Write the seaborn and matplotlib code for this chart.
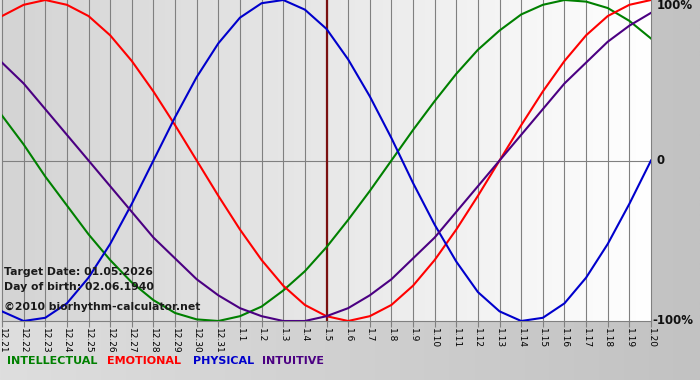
import numpy as np
import pandas as pd
import seaborn as sns
import matplotlib.pyplot as plt
from matplotlib.colors import LinearSegmentedColormap

plt.rcParams['font.family'] = ['DejaVu Sans']

days = ['12.21', '12.22', '12.23', '12.24', '12.25', '12.26', '12.27', '12.28', '12.29', '12.30', '12.31',
        '1.1', '1.2', '1.3', '1.4', '1.5', '1.6', '1.7', '1.8', '1.9', '1.10', '1.11', '1.12', '1.13',
        '1.14', '1.15', '1.16', '1.17', '1.18', '1.19', '1.20']

intellectual = [0.28, 0.10, -0.10, -0.28, -0.46, -0.62, -0.76, -0.87, -0.95, -0.99, -1.00,
                -0.97, -0.91, -0.81, -0.69, -0.54, -0.37, -0.19, 0.00, 0.19, 0.37, 0.54,
                0.69, 0.81, 0.91, 0.97, 1.00, 0.99, 0.95, 0.87, 0.76]
emotional = [0.90, 0.97, 1.00, 0.97, 0.90, 0.78, 0.62, 0.43, 0.22, 0.00, -0.22,
             -0.43, -0.62, -0.78, -0.90, -0.97, -1.00, -0.97, -0.90, -0.78, -0.62, -0.43,
             -0.22, 0.00, 0.22, 0.43, 0.62, 0.78, 0.90, 0.97, 1.00]
physical = [-0.94, -1.00, -0.98, -0.89, -0.73, -0.52, -0.27, 0.00, 0.27, 0.52, 0.73,
            0.89, 0.98, 1.00, 0.94, 0.82, 0.63, 0.40, 0.14, -0.14, -0.40, -0.63,
            -0.82, -0.94, -1.00, -0.98, -0.89, -0.73, -0.52, -0.27, 0.00]
intuitive = [0.61, 0.48, 0.32, 0.16, 0.00, -0.16, -0.32, -0.48, -0.61, -0.74, -0.84,
             -0.92, -0.97, -1.00, -1.00, -0.97, -0.92, -0.84, -0.74, -0.61, -0.48, -0.32,
             -0.16, 0.00, 0.16, 0.32, 0.48, 0.61, 0.74, 0.84, 0.92]

target_day = '1.5'
target_text = 'Target Date: 01.05.2026'
birth_text = 'Day of birth: 02.06.1940'
site_text = '\u00a92010 biorhythm-calculator.net'

colors = {'INTELLECTUAL': '#008000', 'EMOTIONAL': '#ff0000',
          'PHYSICAL': '#0000cc', 'INTUITIVE': '#4b0082'}

rows = []
for name, vals in [('INTELLECTUAL', intellectual), ('EMOTIONAL', emotional),
                   ('PHYSICAL', physical), ('INTUITIVE', intuitive)]:
    for i, v in enumerate(vals):
        rows.append({'day': i, 'value': v, 'rhythm': name})
df = pd.DataFrame(rows)

W, H = 700, 380
fig = plt.figure(figsize=(7, 3.8), dpi=100)

# figure background gradient
bg = fig.add_axes([0, 0, 1, 1], zorder=-10)
bg_cmap = LinearSegmentedColormap.from_list('bg', ['#dedede', '#c2c2c2'])
bg.imshow(np.linspace(0, 1, 256).reshape(1, -1), cmap=bg_cmap, aspect='auto', extent=[0, 1, 0, 1])
bg.set_axis_off()

ax = fig.add_axes([2 / W, 1 - 321 / H, 649 / W, 321 / H])
plot_cmap = LinearSegmentedColormap.from_list('pl', ['#d4d4d4', '#e8e8e8', '#ffffff'])
ax.imshow(np.linspace(0, 1, 256).reshape(1, -1), cmap=plot_cmap, aspect='auto',
          extent=[0, len(days) - 1, -1.0, 1.0], zorder=0)

for i in range(len(days)):
    ax.axvline(i, color='#808080', lw=0.8, zorder=1, clip_on=False)
ax.axhline(0, color='#808080', lw=0.8, zorder=1)
ax.axvline(days.index(target_day), color='#7a1010', lw=1.6, zorder=1)

sns.lineplot(data=df, x='day', y='value', hue='rhythm', palette=colors, ax=ax,
             legend=False, linewidth=1.5, zorder=3)

ax.set_xlim(0, len(days) - 1)
ax.set_ylim(-1.0, 1.0)
ax.set_xticks(range(len(days)))
ax.set_xticklabels(days, rotation=270, fontsize=6.5, va='top', ha='center')
ax.set_yticks([])
ax.tick_params(axis='x', length=4, width=0.8, color='#808080', pad=1)
for s in ['top', 'left', 'right']:
    ax.spines[s].set_visible(False)
ax.spines['bottom'].set_color('#808080')
ax.spines['bottom'].set_linewidth(0.8)
ax.set_xlabel('')
ax.set_ylabel('')

# right side labels
for y, lab in [(1.0, '100%'), (0.0, '0'), (-1.0, '-100%')]:
    ax.annotate(lab, xy=(1, y), xycoords=('axes fraction', 'data'),
                xytext=(4 if lab != '-100%' else 1, -4 if y == 1.0 else 0),
                textcoords='offset points', ha='left', va='center', fontsize=8.5,
                fontweight='bold', color='#111111')

# info text inside plot
for ypix, txt in [(272, target_text), (287, birth_text), (307, site_text)]:
    ax.text(0.003, 1 - ypix / 321, txt, transform=ax.transAxes, fontsize=7.8,
            fontweight='bold', color='#1a1a1a', va='center', zorder=5)

# legend row
for x, name in [(7, 'INTELLECTUAL'), (107, 'EMOTIONAL'), (193, 'PHYSICAL'), (262, 'INTUITIVE')]:
    fig.text(x / W, 1 - 361 / H, name, color=colors[name], fontsize=8, fontweight='bold',
             va='center', ha='left')

fig.savefig('out.png', dpi=100)
